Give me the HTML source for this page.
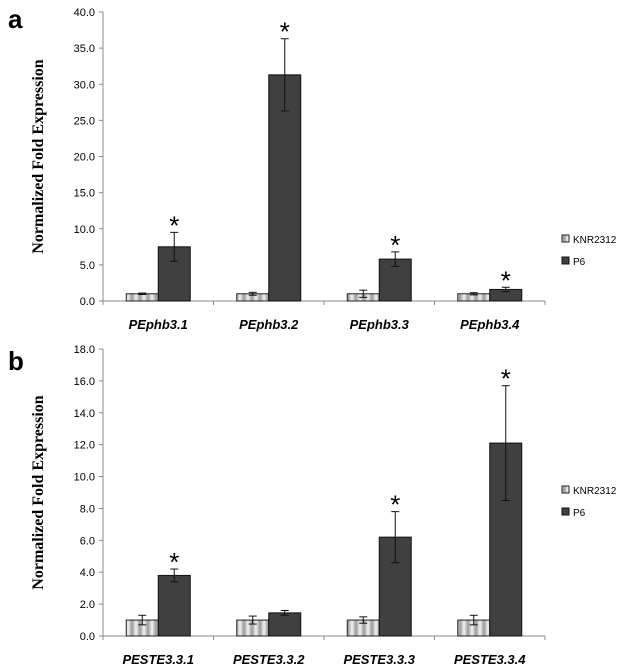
<!DOCTYPE html>
<html><head><meta charset="utf-8"><style>
body{margin:0;background:#fff;width:633px;height:670px;overflow:hidden}
svg{display:block}
</style></head><body>
<svg id="chart" width="633" height="670" xmlns="http://www.w3.org/2000/svg">
<defs>
<linearGradient id="stripe" x1="0" x2="1" y1="0" y2="0" spreadMethod="repeat">
<stop offset="0" stop-color="#f2f2f2"/><stop offset="0.5" stop-color="#9a9a9a"/><stop offset="1" stop-color="#f2f2f2"/>
</linearGradient>
<pattern id="kpat" patternUnits="userSpaceOnUse" width="8" height="10">
<rect width="8" height="10" fill="url(#stripe)"/>
</pattern>
</defs>
<text x="8" y="28" font-family="Liberation Sans, sans-serif" font-weight="bold" font-size="26">a</text>
<text x="8" y="370" font-family="Liberation Sans, sans-serif" font-weight="bold" font-size="26">b</text>
</svg>
<script>
const catsA=["PEphb3.1","PEphb3.2","PEphb3.3","PEphb3.4"];
const knrA=[1.0,1.0,1.0,1.0];
const knrErrA=[0.1,0.2,0.5,0.15];
const p6A=[7.5,31.3,5.8,1.6];
const p6ErrA=[2.0,5.0,1.0,0.3];
const sigA=[true,true,true,true];
const ticksA=[0,5,10,15,20,25,30,35,40];
const catsB=["PESTE3.3.1","PESTE3.3.2","PESTE3.3.3","PESTE3.3.4"];
const knrB=[1.0,1.0,1.0,1.0];
const knrErrB=[0.3,0.25,0.2,0.3];
const p6B=[3.8,1.45,6.2,12.1];
const p6ErrB=[0.4,0.15,1.6,3.6];
const sigB=[true,false,true,true];
const ticksB=[0,2,4,6,8,10,12,14,16,18];
const svg=document.getElementById('chart');
const NS="http://www.w3.org/2000/svg";
function mk(t,a,txt){const e=document.createElementNS(NS,t);for(const k in a)e.setAttribute(k,a[k]);if(txt!==undefined)e.textContent=txt;svg.appendChild(e);return e;}
function panel(p,cats,knr,knrE,p6,p6E,sig,ticks,y0,y1,legY){
  const x0=103,x1=545,max=ticks[ticks.length-1];
  const Y=v=>y0-(v/max)*(y0-y1);
  const step=(x1-x0)/cats.length;
  let e=mk('line',{x1:x0,y1:y1,x2:x0,y2:y0,stroke:'#888'});
  
  e=mk('line',{x1:x0,y1:y0,x2:x1,y2:y0,stroke:'#888'});
  
  ticks.forEach(t=>{
    mk('line',{x1:x0-4,y1:Y(t),x2:x0,y2:Y(t),stroke:'#888'});
    e=mk('text',{x:x0-8,y:Y(t)+4,'text-anchor':'end','font-family':'Liberation Sans, sans-serif','font-size':'11'},t.toFixed(1));
    
  });
  for(let i=0;i<=cats.length;i++) mk('line',{x1:x0+i*step,y1:y0,x2:x0+i*step,y2:y0+4,stroke:'#888'});
  const bw=32;
  cats.forEach((c,i)=>{
    const cx=x0+step*(i+0.5);
    e=mk('rect',{x:cx-bw,y:Y(knr[i]),width:bw,height:y0-Y(knr[i]),fill:'url(#kpat)',stroke:'#222'});
    
    e=mk('rect',{x:cx,y:Y(p6[i]),width:bw,height:y0-Y(p6[i]),fill:'#404040',stroke:'#111'});
    
    [[cx-bw/2,knr[i],knrE[i]],[cx+bw/2,p6[i],p6E[i]]].forEach(([ex,v,er])=>{
      mk('line',{x1:ex,y1:Y(v+er),x2:ex,y2:Y(v-er),stroke:'#111'});
      mk('line',{x1:ex-4,y1:Y(v+er),x2:ex+4,y2:Y(v+er),stroke:'#111'});
      mk('line',{x1:ex-4,y1:Y(v-er),x2:ex+4,y2:Y(v-er),stroke:'#111'});
    });
    if(sig[i]){
      e=mk('text',{x:cx+bw/2,y:Y(p6[i]+p6E[i])+2,'text-anchor':'middle','font-family':'Liberation Sans, sans-serif','font-size':'26'},'*');
      
    }
    e=mk('text',{x:cx,y:y0+28,'text-anchor':'middle','font-family':'Liberation Sans, sans-serif','font-size':'13','font-weight':'bold','font-style':'italic'},c);
    
  });
  const mid=(y0+y1)/2;
  e=mk('text',{x:0,y:0,transform:`translate(43,${mid}) rotate(-90)`,'text-anchor':'middle','font-family':'Liberation Serif, serif','font-size':'16','font-weight':'bold'},'Normalized Fold Expression');
  
  e=mk('rect',{x:562,y:legY-5,width:7,height:7,fill:'url(#kpat)',stroke:'#222'});
  
  e=mk('text',{x:573,y:legY+3,'font-family':'Liberation Sans, sans-serif','font-size':'10'},'KNR2312');
  
  e=mk('rect',{x:562,y:legY+17,width:7,height:7,fill:'#404040',stroke:'#111'});
  
  e=mk('text',{x:573,y:legY+25,'font-family':'Liberation Sans, sans-serif','font-size':'10'},'P6');
  
}
panel('panel-a',catsA,knrA,knrErrA,p6A,p6ErrA,sigA,ticksA,301,12,240);
panel('panel-b',catsB,knrB,knrErrB,p6B,p6ErrB,sigB,ticksB,636,349,491);
</script>
</body></html>
